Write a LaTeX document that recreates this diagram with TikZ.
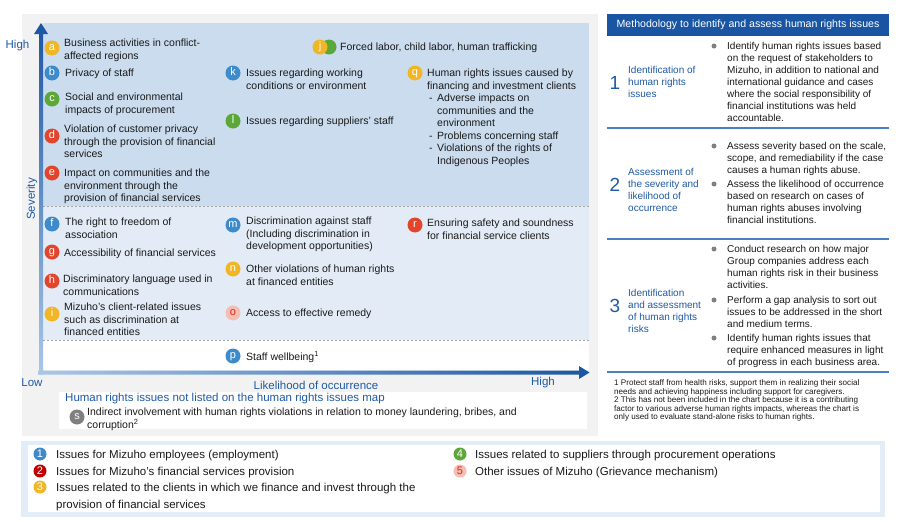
\documentclass[tikz,border=0pt]{standalone}
\usepackage{fontspec}
\setmainfont{Liberation Sans}
\newcommand\myfs[2]{\fontsize{#1}{#2}\selectfont}
\definecolor{cyel}{HTML}{F0B625}
\definecolor{cblu}{HTML}{3D8BCB}
\definecolor{cgrn}{HTML}{5BA839}
\definecolor{cred}{HTML}{E2452C}
\definecolor{cpink}{HTML}{F6BDB3}
\definecolor{ctred}{HTML}{D52B1E}
\definecolor{cdred}{HTML}{C00000}
\definecolor{cgry}{HTML}{808080}
\definecolor{navy}{HTML}{1F5AA6}
\definecolor{hdr}{HTML}{1A55A3}
\definecolor{panel}{HTML}{F2F2F2}
\definecolor{zhigh}{HTML}{CADCEE}
\definecolor{zmid}{HTML}{E3ECF6}
\definecolor{legb}{HTML}{E3EDF7}
\definecolor{sepl}{HTML}{4A80C2}
\definecolor{alight}{HTML}{A9C8E8}
\definecolor{txt}{HTML}{1A1A1A}
\begin{document}
\begin{tikzpicture}[x=1pt,y=-1pt,
  circ/.style={circle, inner sep=0pt, minimum size=15pt, text=white, font=\myfs{11}{11}, text height=5.6pt, text depth=0pt},
  lcirc/.style={circle, inner sep=0pt, minimum size=13pt, text=white, font=\myfs{11}{11}, text height=7.6pt, text depth=0pt},
  itm/.style={anchor=north west, inner sep=0pt, align=left, text=txt, font=\myfs{10.5}{12.5}},
  rtx/.style={anchor=north west, inner sep=0pt, align=left, text=txt, font=\myfs{10}{12}},
  rlab/.style={anchor=north west, inner sep=0pt, align=left, text=navy, font=\myfs{10}{12}},
  rnum/.style={inner sep=0pt, text=navy, font=\myfs{19}{19}},
  dotb/.style={circle, fill=cgry, inner sep=0pt, minimum size=5pt},
  axl/.style={inner sep=0pt, text=navy, font=\myfs{11.5}{13}},
  leg/.style={anchor=north west, inner sep=0pt, align=left, text=txt, font=\myfs{11.5}{17}},
  dsh/.style={draw=gray!70, line width=0.8pt, dash pattern=on 2pt off 2pt},
  sepline/.style={draw=sepl, line width=1.2pt}
]
\useasboundingbox (0,0) rectangle (900,522);
\fill[white] (0,0) rectangle (900,522);

% left gray panel
\fill[panel] (22,14) rectangle (598,436);
% chart zones
\fill[zhigh] (43,23) rectangle (589,206);
\fill[zmid] (43,206) rectangle (589,340);
\fill[white] (43,340) rectangle (589,370);
\draw[dsh] (43,206) -- (589,206);
\draw[dsh] (43,340) -- (589,340);

% axes (gradient arrows)
\shade[left color=alight, right color=hdr]
  (38,370.5) -- (579,370.5) -- (579,366) -- (589.5,372.5) -- (579,379) -- (579,374.5) -- (38,374.5) -- cycle;
\shade[top color=hdr, bottom color=alight]
  (39,374.5) -- (39,34) -- (34,34) -- (41,23) -- (48,34) -- (43,34) -- (43,374.5) -- cycle;

\node[axl] (hy) at (17.5,46) {High};
\node[axl, rotate=90] (sev) at (32,199) {Severity};
\node[axl] (low) at (32,383) {Low};
\node[axl] (lik) at (316,385) {Likelihood of occurrence};
\node[axl] (hx) at (543,383) {High};

% ---- high severity zone
\node[circ, fill=cyel] (a) at (52,48) {a};
\node[itm] (ta) at (64,39) {Business activities in conflict-\\affected regions};
\node[circ, fill=cblu] (b) at (52,73) {b};
\node[itm] (tb) at (65,69) {Privacy of staff};
\node[circ, fill=cgrn] (c) at (52,99) {c};
\node[itm] (tc) at (65,93) {Social and environmental\\impacts of procurement};
\node[circ, fill=cred] (d) at (52,136) {d};
\node[itm] (td) at (64,125) {Violation of customer privacy\\through the provision of financial\\services};
\node[circ, fill=cred] (e) at (52,173) {e};
\node[itm] (te) at (64,169) {Impact on communities and the\\environment through the\\provision of financial services};

\node[circ, fill=cgrn] (j2) at (329,47) {};
\node[circ, fill=cyel] (j) at (320,47) {j};
\node[itm] (tj) at (340,43) {Forced labor, child labor, human trafficking};

\node[circ, fill=cblu] (k) at (233,73) {k};
\node[itm] (tk) at (246,69) {Issues regarding working\\conditions or environment};
\node[circ, fill=cgrn] (l) at (233,121) {l};
\node[itm] (tl) at (246,117) {Issues regarding suppliers’ staff};

\node[circ, fill=cyel] (q) at (415,73) {q};
\node[itm] (tq) at (427,69) {Human rights issues caused by\\financing and investment clients};
\node[itm] (dq1) at (429,94) {\vphantom{Ad}-};
\node[itm] (tq1) at (437,94) {Adverse impacts on\\communities and the\\environment};
\node[itm] (dq2) at (429,132) {\vphantom{Ad}-};
\node[itm] (tq2) at (437,132) {Problems concerning staff};
\node[itm] (dq3) at (429,144) {\vphantom{Ad}-};
\node[itm] (tq3) at (437,144) {Violations of the rights of\\Indigenous Peoples};

% ---- middle zone
\node[circ, fill=cblu] (f) at (52,224) {f};
\node[itm] (tf) at (65,218) {The right to freedom of\\association};
\node[circ, fill=cred] (g) at (52,252) {g};
\node[itm] (tg) at (64,249) {Accessibility of financial services};
\node[circ, fill=cred] (h) at (52,281) {h};
\node[itm] (th) at (63,275) {Discriminatory language used in\\communications};
\node[circ, fill=cyel] (i) at (52,314) {i};
\node[itm] (ti) at (64,303) {Mizuho’s client-related issues\\such as discrimination at\\financed entities};

\node[circ, fill=cblu] (m) at (233,225) {m};
\node[itm] (tm) at (246,217) {Discrimination against staff\\(Including discrimination in\\development opportunities)};
\node[circ, fill=cyel] (n) at (233,269) {n};
\node[itm] (tn) at (246,265) {Other violations of human rights\\at financed entities};
\node[circ, fill=cpink, text=ctred] (o) at (233,313) {o};
\node[itm] (to) at (246,309) {Access to effective remedy};
\node[circ, fill=cred] (r) at (415,225) {r};
\node[itm] (tr) at (427,219) {Ensuring safety and soundness\\for financial service clients};

% ---- low zone
\node[circ, fill=cblu] (p) at (233,356) {p};
\node[itm] (tp) at (246,351) {Staff wellbeing\textsuperscript{1}};

% ---- not listed box
\fill[white] (59,392) rectangle (587,429);
\node[anchor=north west, inner sep=0pt, text=navy, font=\myfs{11.5}{13}] (nl) at (65,392.6) {Human rights issues not listed on the human rights issues map};
\node[circ, fill=cgry] (s) at (77,417) {s};
\node[itm] (ts) at (87,408) {Indirect involvement with human rights violations in relation to money laundering, bribes, and\\corruption\textsuperscript{2}};

% ---- right panel
\fill[hdr] (607,14) rectangle (889,36);
\node[inner sep=0pt, text=white, font=\myfs{10.6}{12}] (hd) at (748,25) {Methodology to identify and assess human rights issues};
\draw[sepline] (607,128) -- (889,128);
\draw[sepline] (607,239) -- (889,239);
\draw[sepline] (607,372) -- (889,372);

\node[rnum] (n1) at (615,83) {1};
\node[rlab] (l1) at (628,66) {Identification of\\human rights\\issues};
\node[dotb] (b11) at (714,46) {};
\node[rtx] (t11) at (727,42) {Identify human rights issues based\\on the request of stakeholders to\\Mizuho, in addition to national and\\international guidance and cases\\where the social responsibility of\\financial institutions was held\\accountable.};

\node[rnum] (n2) at (615,185) {2};
\node[rlab] (l2) at (628,168) {Assessment of\\the severity and\\likelihood of\\occurrence};
\node[dotb] (b21) at (714,146) {};
\node[rtx] (t21) at (727,142) {Assess severity based on the scale,\\scope, and remediability if the case\\causes a human rights abuse.};
\node[dotb] (b22) at (714,184) {};
\node[rtx] (t22) at (727,180) {Assess the likelihood of occurrence\\based on research on cases of\\human rights abuses involving\\financial institutions.};

\node[rnum] (n3) at (615,306) {3};
\node[rlab] (l3) at (628,289) {Identification\\and assessment\\of human rights\\risks};
\node[dotb] (b31) at (714,249) {};
\node[rtx] (t31) at (727,245) {Conduct research on how major\\Group companies address each\\human rights risk in their business\\activities.};
\node[dotb] (b32) at (714,300) {};
\node[rtx] (t32) at (727,296) {Perform a gap analysis to sort out\\issues to be addressed in the short\\and medium terms.};
\node[dotb] (b33) at (714,338) {};
\node[rtx] (t33) at (727,334) {Identify human rights issues that\\require enhanced measures in light\\of progress in each business area.};

\node[anchor=north west, inner sep=0pt, align=left, text=txt, font=\myfs{8.1}{8.5}] (fn) at (614,379.5) {1 Protect staff from health risks, support them in realizing their social\\needs and achieving happiness including support for caregivers.\\2 This has not been included in the chart because it is a contributing\\factor to various adverse human rights impacts, whereas the chart is\\only used to evaluate stand-alone risks to human rights.};

% ---- legend
\fill[legb] (21,441) rectangle (885,517);
\fill[white] (28,445) rectangle (880,512);
\node[lcirc, fill=cblu] (g1) at (40,454) {1};
\node[leg] (lg1) at (56,449.6) {Issues for Mizuho employees (employment)};
\node[lcirc, fill=cdred] (g2) at (40,471) {2};
\node[leg] (lg2) at (56,466.6) {Issues for Mizuho’s financial services provision};
\node[lcirc, fill=cyel] (g3) at (40,487) {3};
\node[leg] (lg3) at (56,482.6) {Issues related to the clients in which we finance and invest through the\\provision of financial services};
\node[lcirc, fill=cgrn] (g4) at (460,454) {4};
\node[leg] (lg4) at (475,449.6) {Issues related to suppliers through procurement operations};
\node[lcirc, fill=cpink, text=ctred] (g5) at (460,471) {5};
\node[leg] (lg5) at (475,466.6) {Other issues of Mizuho (Grievance mechanism)};
\end{tikzpicture}
\end{document}
